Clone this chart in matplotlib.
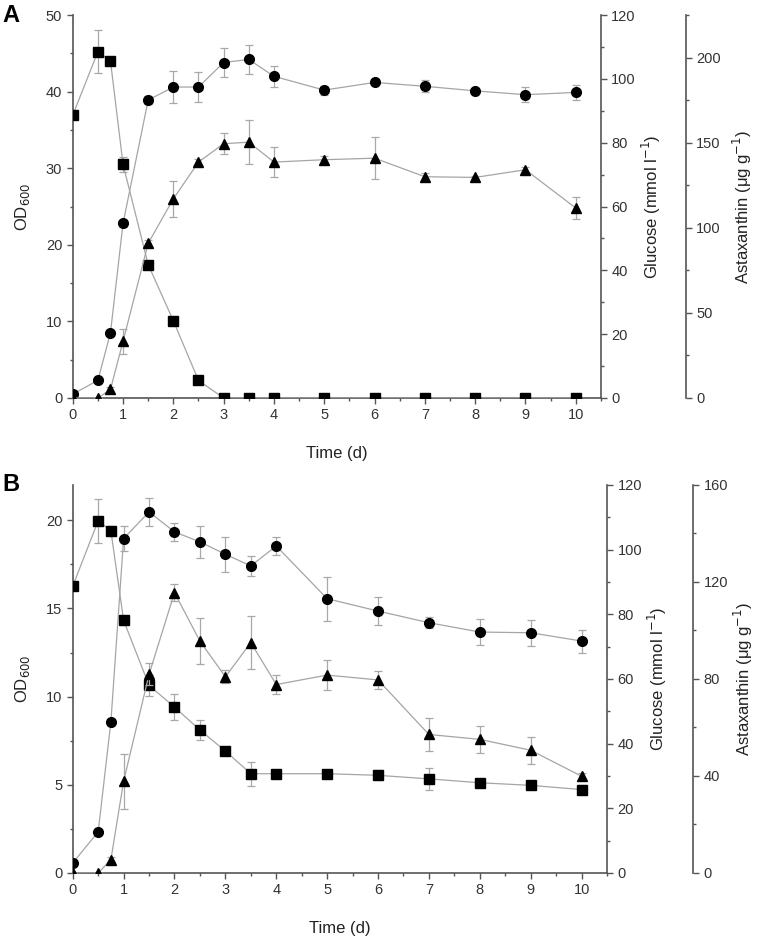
import matplotlib
matplotlib.use("Agg")
import matplotlib.pyplot as plt
from matplotlib.ticker import MultipleLocator

plt.rcParams['font.family'] = ['Liberation Sans', 'DejaVu Sans']

time = [0, 0.5, 0.75, 1, 1.5, 2, 2.5, 3, 3.5, 4, 5, 6, 7, 8, 9, 10]

# Panel A
od_a = [0.5, 2.3, 8.5, 22.8, 38.9, 40.6, 40.6, 43.8, 44.2, 42.0, 40.2, 41.2, 40.7, 40.1, 39.6, 39.9]
od_a_err = [0.2, 0.3, 0.3, 0.5, 0.5, 2.05, 1.9, 1.9, 1.9, 1.4, 0.6, 0.3, 0.8, 0.3, 1.0, 1.0]
glc_a = [88.6, 108.5, 105.6, 73.2, 41.8, 24.2, 5.5, 0, 0, 0, 0, 0, 0, 0, 0, 0]
glc_a_err = [1.0, 6.7, 1.2, 2.4, 1.0, 1.0, 0.8, 0.2, 0.2, 0.2, 0.2, 0.2, 0.2, 0.2, 0.2, 0.2]
ast_a = [0, 0, 5.0, 33.3, 90.9, 117.0, 138.6, 149.4, 150.3, 138.6, 140.0, 140.9, 130.0, 129.6, 134.1, 111.6]
ast_a_err = [0, 0, 1.5, 7.2, 2.2, 10.4, 2.0, 6.1, 13.0, 9.0, 2.0, 12.2, 2.0, 1.0, 1.5, 6.3]

# Panel B
od_b = [0.57, 2.33, 8.57, 18.96, 20.47, 19.34, 18.77, 18.07, 17.41, 18.54, 15.55, 14.85, 14.19, 13.66, 13.62, 13.15]
od_b_err = [0.1, 0.1, 0.1, 0.7, 0.8, 0.5, 0.9, 1.0, 0.55, 0.5, 1.25, 0.8, 0.3, 0.75, 0.75, 0.65]
glc_b = [88.7, 108.9, 105.8, 78.1, 58.0, 51.3, 44.2, 37.7, 30.7, 30.7, 30.7, 30.2, 29.1, 27.9, 27.1, 25.8]
glc_b_err = [0.5, 6.7, 1.5, 1.5, 3.3, 4.0, 3.1, 1.0, 3.7, 0.8, 0.8, 1.6, 3.3, 1.0, 1.0, 1.5]
ast_b = [0, 0, 5.5, 37.8, 81.9, 115.6, 95.6, 80.9, 95.0, 77.7, 81.6, 79.6, 57.1, 55.1, 50.6, 39.9]
ast_b_err = [0, 0, 1.0, 11.3, 4.5, 3.4, 9.4, 2.7, 11.0, 3.8, 6.2, 3.6, 6.7, 5.6, 5.5, 1.5]

SPINE = '#555555'
TXT = '#333333'
LINE = '#a5a5a5'

fig = plt.figure(figsize=(7.6, 9.4), dpi=100)


def panel(rect, od, od_err, glc, glc_err, ast, ast_err, od_max, od_major, od_minor,
          ast_max, ast_major, ast_minor, ast_offset, ast_pad, letter):
    ax = fig.add_axes(rect)
    ax2 = ax.twinx()
    ax3 = ax.twinx()
    for a in (ax, ax2, ax3):
        for s in a.spines.values():
            s.set_color(SPINE)
            s.set_linewidth(1.2)
        a.spines['top'].set_visible(False)
        a.tick_params(colors=SPINE, labelcolor=TXT, labelsize=10.5, width=1.0, length=4)
        a.tick_params(which='minor', colors=SPINE, width=1.0, length=2.5)
    ax.spines['right'].set_visible(False)
    ax3.spines['left'].set_visible(False)
    ax2.spines['left'].set_visible(False)
    ax3.spines['bottom'].set_visible(False)
    ax2.spines['bottom'].set_visible(False)
    ax3.spines['right'].set_position(('outward', ast_offset))

    kw = dict(color='black', ecolor='#a8a8a8', elinewidth=0.9, capsize=3, capthick=0.9,
              markersize=7, linewidth=0.9, zorder=3)
    l1 = ax.errorbar(time, od, yerr=od_err, marker='o', **kw)
    l2 = ax2.errorbar(time, glc, yerr=glc_err, marker='s', **kw)
    l3 = ax3.errorbar(time, ast, yerr=ast_err, marker='^', **kw)
    for l in (l1, l2, l3):
        l.lines[0].set_color(LINE)
        l.lines[0].set_markerfacecolor('black')
        l.lines[0].set_markeredgecolor('black')

    ax.set_xlim(0, 10.5)
    ax.set_ylim(0, od_max)
    ax2.set_ylim(0, 120)
    ax3.set_ylim(0, ast_max)
    ax.xaxis.set_major_locator(MultipleLocator(1))
    ax.xaxis.set_minor_locator(MultipleLocator(0.5))
    ax.yaxis.set_major_locator(MultipleLocator(od_major))
    ax.yaxis.set_minor_locator(MultipleLocator(od_minor))
    ax2.yaxis.set_major_locator(MultipleLocator(20))
    ax2.yaxis.set_minor_locator(MultipleLocator(10))
    ax3.yaxis.set_major_locator(MultipleLocator(ast_major))
    ax3.yaxis.set_minor_locator(MultipleLocator(ast_minor))

    ax.set_xlabel('Time (d)', fontsize=12, color='#222222', labelpad=17)
    ax.set_ylabel('OD$_{600}$', fontsize=12, color='#222222', labelpad=10)
    ax2.set_ylabel('Glucose (mmol l$^{-1}$)', fontsize=12, color='#222222', labelpad=3)
    ax3.set_ylabel('Astaxanthin (μg g$^{-1}$)', fontsize=12, color='#222222', labelpad=ast_pad)
    fig.text(0.003, rect[1] + rect[3], letter, fontsize=17, fontweight='bold',
             ha='left', va='center', color='black')


panel([0.0957, 0.5766, 0.695, 0.4074], od_a, od_a_err, glc_a, glc_a_err, ast_a, ast_a_err,
      50, 10, 5, 225, 50, 25, 61, 7, 'A')
panel([0.0957, 0.0713, 0.703, 0.4128], od_b, od_b_err, glc_b, glc_b_err, ast_b, ast_b_err,
      22, 5, 2.5, 160, 40, 20, 62, 3, 'B')

fig.savefig('out.png', dpi=100)
